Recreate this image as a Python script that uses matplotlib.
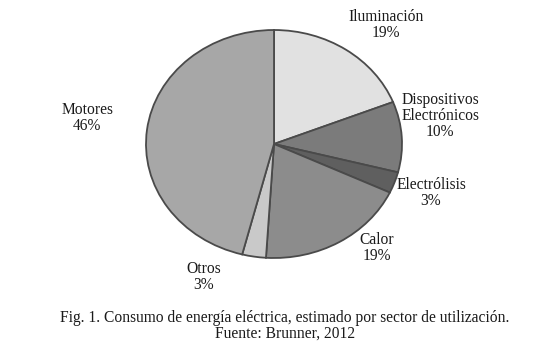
import matplotlib.pyplot as plt

sectores = ['Iluminación', 'Dispositivos\nElectrónicos', 'Electrólisis', 'Calor', 'Otros', 'Motores']
porcentajes = [19, 10, 3, 19, 3, 46]
colores = ['#e1e1e1', '#7b7b7b', '#5f5f5f', '#8c8c8c', '#c9c9c9', '#a7a7a7']

# label centres in pixels (x, y from top)
pos_etiquetas = [(386, 25), (440, 116), (431, 193), (377, 248), (204, 277), (87, 118)]

W, H = 550, 344
plt.rcParams['font.family'] = ['Liberation Serif', 'DejaVu Serif']

fig = plt.figure(figsize=(W / 100, H / 100), dpi=100)
# pie is slightly wider than tall in the reference
ax = fig.add_axes([146 / W, (H - 258) / H, 256 / W, 228 / H])
ax.pie(porcentajes, colors=colores, startangle=90, counterclock=False,
       wedgeprops=dict(edgecolor='#4a4a4a', linewidth=1.3))
ax.set_aspect('auto')
ax.set_xlim(-1, 1)
ax.set_ylim(-1, 1)
ax.axis('off')

for nombre, pct, (px, py) in zip(sectores, porcentajes, pos_etiquetas):
    fig.text(px / W, 1 - py / H, f'{nombre}\n{pct}%', ha='center', va='center',
             fontsize=11.2, linespacing=1.0, color='#1a1a1a')

fig.text(285 / W, 1 - 326 / H,
         'Fig. 1. Consumo de energía eléctrica, estimado por sector de utilización.\nFuente: Brunner, 2012',
         ha='center', va='center', fontsize=11.2, linespacing=1.0, color='#1a1a1a')

fig.savefig('out.png', dpi=100, facecolor='white')
